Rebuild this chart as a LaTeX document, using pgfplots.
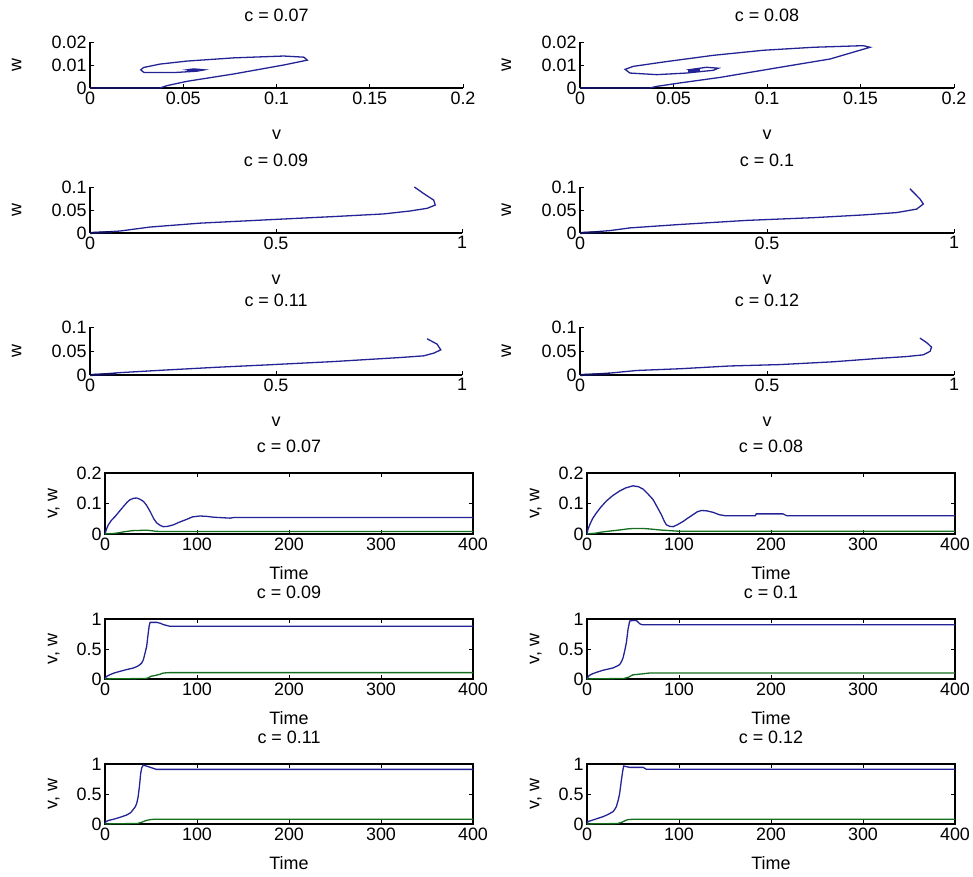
\documentclass[border=0pt]{standalone}
\usepackage{fontspec}
\setmainfont{Liberation Sans}
\usepackage{pgfplots}
\pgfplotsset{compat=1.18}
\definecolor{mblue}{RGB}{35,35,150}
\definecolor{mdark}{RGB}{15,15,90}
\definecolor{mgreen}{RGB}{20,110,30}
\pgfplotsset{
  base/.style={scale only axis, clip=false,
    scaled x ticks=false, scaled y ticks=false,
    font=\fontsize{18}{21}\selectfont,
    /pgf/number format/assume math mode=true,
    tick align=inside, major tick length=4bp,
    every tick/.style={black, line width=0.9bp},
    axis line style={black, line width=1.1bp},
    title style={at={(axis description cs:0.5,1)}, anchor=center, yshift=21bp},
    xlabel style={at={(axis description cs:0.5,0)}, anchor=center},
    ylabel style={anchor=center},
    every axis plot/.append style={line width=1.3bp, no markers},
  },
  phase/.style={base, axis x line*=bottom, axis y line*=left,
    xmin=0, ymin=0, xlabel={v}, ylabel={w},
    xlabel style={yshift=-47bp},
    ylabel style={at={(axis description cs:-0.197,0.5)}}},
  phaseA/.style={phase, xmax=0.2, ymax=0.02,
    xtick={0,0.05,0.1,0.15,0.2}, xticklabels={0,0.05,0.1,0.15,0.2},
    ytick={0,0.01,0.02}, yticklabels={0,0.01,0.02}},
  phaseB/.style={phase, xmax=1, ymax=0.1,
    xtick={0,0.5,1}, xticklabels={0,0.5,1},
    ytick={0,0.05,0.1}, yticklabels={0,0.05,0.1}},
  tser/.style={base, xmin=0, xmax=400, ymin=0,
    xtick={0,100,200,300,400}, xticklabels={0,100,200,300,400},
    xlabel={Time}, ylabel={v, w},
    xlabel style={yshift=-39bp},
    ylabel style={at={(axis description cs:-0.139,0.5)}}},
  tserA/.style={tser, ymax=0.2, ytick={0,0.1,0.2}, yticklabels={0,0.1,0.2}},
  tserB/.style={tser, ymax=1, ytick={0,0.5,1}, yticklabels={0,0.5,1}},
}
\begin{document}
\begin{tikzpicture}
\path[use as bounding box] (0,0) rectangle (973bp,877bp);

% ---------- Row 1: phase c=0.07, 0.08
\begin{axis}[phaseA, at={(90bp,789bp)}, anchor=south west, width=373bp, height=46bp, title={c = 0.07}]
\addplot[mblue] coordinates {(0,0) (0.0376,0) (0.0412,0.001) (0.052,0.0029) (0.0771,0.0061) (0.1039,0.010) (0.1165,0.0121) (0.1147,0.0134) (0.1039,0.0139) (0.0771,0.0131) (0.052,0.0117) (0.0376,0.0104) (0.0287,0.0089) (0.0272,0.0079) (0.029,0.0067) (0.0448,0.0067) (0.0573,0.0073) (0.0613,0.0079) (0.0556,0.0083) (0.052,0.0079) (0.0547,0.0076)};
\addplot[mdark, line width=2.2bp] coordinates {(0,0) (0.0376,0)};
\addplot[mblue, line width=2.5bp] coordinates {(0.052,0.0078) (0.058,0.0078)};
\end{axis}
\begin{axis}[phaseA, at={(580bp,789bp)}, anchor=south west, width=374bp, height=46bp, title={c = 0.08}]
\addplot[mblue] coordinates {(0,0) (0.0374,0) (0.041,0.0007) (0.0535,0.0022) (0.0749,0.0046) (0.107,0.009) (0.1337,0.0126) (0.1551,0.0177) (0.1515,0.0184) (0.1248,0.0177) (0.098,0.0164) (0.0713,0.0142) (0.0446,0.0113) (0.0285,0.0094) (0.0241,0.0081) (0.0267,0.0065) (0.041,0.0058) (0.057,0.0065) (0.0713,0.0077) (0.074,0.0086) (0.0677,0.009) (0.0588,0.008) (0.0624,0.0075) (0.0606,0.0077)};
\addplot[mdark, line width=2.2bp] coordinates {(0,0) (0.0374,0)};
\addplot[mblue, line width=2.5bp] coordinates {(0.058,0.0077) (0.064,0.0077)};
\end{axis}

% ---------- Row 2: phase c=0.09, 0.1
\begin{axis}[phaseB, at={(90bp,644bp)}, anchor=south west, width=372bp, height=46bp, title={c = 0.09}]
\addplot[mblue] coordinates {(0,0) (0.081,0.0043) (0.161,0.0129) (0.296,0.0214) (0.475,0.0286) (0.655,0.0357) (0.789,0.0414) (0.861,0.0479) (0.906,0.0536) (0.928,0.0607) (0.924,0.0714) (0.897,0.0857) (0.872,0.100)};
\addplot[mdark, line width=2.2bp] coordinates {(0,0) (0.06,0.002)};
\end{axis}
\begin{axis}[phaseB, at={(580bp,644bp)}, anchor=south west, width=374bp, height=46bp, title={c = 0.1}]
\addplot[mblue] coordinates {(0,0) (0.080,0.0052) (0.134,0.0111) (0.267,0.0185) (0.446,0.0274) (0.624,0.0333) (0.758,0.0393) (0.847,0.0444) (0.900,0.0519) (0.918,0.063) (0.909,0.074) (0.882,0.0963)};
\addplot[mdark, line width=2.2bp] coordinates {(0,0) (0.06,0.002)};
\end{axis}

% ---------- Row 3: phase c=0.11, 0.12
\begin{axis}[phaseB, at={(90bp,502bp)}, anchor=south west, width=372bp, height=48bp, title={c = 0.11}]
\addplot[mblue] coordinates {(0,0) (0.0807,0.0049) (0.206,0.0105) (0.341,0.0161) (0.475,0.021) (0.655,0.028) (0.834,0.0364) (0.897,0.0399) (0.924,0.0455) (0.943,0.0524) (0.933,0.0643) (0.906,0.0755)};
\addplot[mdark, line width=2.2bp] coordinates {(0,0) (0.07,0.002)};
\end{axis}
\begin{axis}[phaseB, at={(580bp,502bp)}, anchor=south west, width=374bp, height=48bp, title={c = 0.12}]
\addplot[mblue] coordinates {(0,0) (0.0847,0.0043) (0.1515,0.0094) (0.267,0.013) (0.401,0.0188) (0.535,0.0217) (0.677,0.0275) (0.802,0.0348) (0.873,0.0384) (0.918,0.042) (0.936,0.0493) (0.940,0.058) (0.927,0.0674) (0.909,0.0768)};
\addplot[mdark, line width=2.2bp] coordinates {(0,0) (0.08,0.002)};
\end{axis}

% ---------- Row 4: time c=0.07, 0.08
\begin{axis}[tserA, at={(105bp,343bp)}, anchor=south west, width=368bp, height=61bp, title={c = 0.07}]
\addplot[mblue] coordinates {(0,0) (1.5,0.015) (3.6,0.03) (7,0.045) (10.9,0.057) (15,0.072) (20,0.09) (24,0.104) (27,0.112) (31,0.117) (34.5,0.118) (38,0.114) (41.7,0.107) (45,0.095) (49,0.074) (53,0.05) (56,0.037) (60,0.028) (63.5,0.024) (68,0.025) (74.3,0.03) (81,0.039) (88.8,0.048) (95,0.056) (103,0.059) (110,0.058) (118,0.055) (136,0.052) (140,0.054) (400,0.054)};
\addplot[mgreen] coordinates {(0,0) (5,0.001) (10,0.002) (15,0.004) (20,0.007) (30,0.011) (40,0.012) (47,0.012) (50,0.011) (55,0.009) (60,0.008) (400,0.008)};
\end{axis}
\begin{axis}[tserA, at={(587bp,343bp)}, anchor=south west, width=368bp, height=61bp, title={c = 0.08}]
\addplot[mblue] coordinates {(0,0) (1,0.015) (2.9,0.03) (6,0.05) (10.2,0.069) (15,0.088) (21,0.108) (28,0.126) (35.5,0.141) (42,0.151) (50,0.158) (56,0.155) (61,0.147) (66,0.132) (71.8,0.113) (76,0.09) (80.9,0.063) (84,0.042) (86.3,0.03) (90,0.025) (93.6,0.024) (98,0.03) (104.4,0.041) (110,0.053) (115,0.063) (120,0.073) (124.4,0.077) (130,0.076) (137,0.071) (144,0.063) (150,0.06) (183,0.06) (184,0.066) (213,0.066) (217,0.06) (400,0.06)};
\addplot[mgreen] coordinates {(0,0) (10,0.003) (15,0.006) (20,0.008) (35,0.013) (45,0.017) (50,0.018) (62,0.018) (70,0.016) (80,0.013) (90,0.011) (100,0.009) (400,0.009)};
\end{axis}

% ---------- Row 5: time c=0.09, 0.1
\begin{axis}[tserB, at={(105bp,198bp)}, anchor=south west, width=368bp, height=60bp, title={c = 0.09}]
\addplot[mblue] coordinates {(0,0) (1,0.03) (2,0.045) (5.4,0.072) (10,0.1) (16.3,0.128) (23,0.155) (30.8,0.183) (35,0.21) (38,0.239) (40,0.27) (41.7,0.32) (43.5,0.43) (45.3,0.544) (47,0.767) (48,0.88) (49,0.944) (56,0.944) (60,0.93) (63.5,0.906) (70.7,0.878) (400,0.878)};
\addplot[mgreen] coordinates {(0,0) (10,0.004) (30,0.006) (44,0.008) (47,0.02) (50,0.045) (55,0.06) (60,0.08) (63.5,0.1) (70,0.106) (400,0.106)};
\end{axis}
\begin{axis}[tserB, at={(587bp,198bp)}, anchor=south west, width=368bp, height=60bp, title={c = 0.1}]
\addplot[mblue] coordinates {(0,0) (1,0.03) (2.5,0.06) (6.5,0.09) (12,0.12) (17.4,0.146) (23,0.165) (28.3,0.185) (32,0.21) (35.5,0.24) (37.5,0.29) (39.2,0.354) (41,0.47) (42.8,0.607) (44.6,0.83) (46.4,0.966) (50,0.975) (53.7,0.975) (57.3,0.92) (60,0.905) (400,0.905)};
\addplot[mgreen] coordinates {(0,0) (10,0.004) (40,0.008) (45,0.03) (50,0.07) (60,0.085) (68,0.1) (400,0.1)};
\end{axis}

% ---------- Row 6: time c=0.11, 0.12
\begin{axis}[tserB, at={(105bp,53bp)}, anchor=south west, width=368bp, height=60bp, title={c = 0.11}]
\addplot[mblue] coordinates {(0,0) (1,0.04) (4,0.06) (9,0.078) (16,0.11) (23.6,0.15) (28,0.19) (30.8,0.244) (33,0.29) (34.5,0.344) (36,0.45) (37.4,0.622) (38.8,0.844) (40,0.94) (41.7,0.983) (44,0.97) (47,0.956) (52,0.93) (56,0.91) (400,0.91)};
\addplot[mgreen] coordinates {(0,0) (10,0.004) (35,0.008) (40,0.03) (45,0.06) (50,0.075) (55,0.08) (400,0.08)};
\end{axis}
\begin{axis}[tserB, at={(587bp,53bp)}, anchor=south west, width=368bp, height=60bp, title={c = 0.12}]
\addplot[mblue] coordinates {(0,0) (1,0.04) (6.5,0.067) (12,0.095) (17.4,0.122) (23,0.16) (28.3,0.206) (30,0.24) (31.9,0.289) (34,0.4) (35.5,0.511) (37.4,0.733) (39,0.9) (39.9,0.967) (43,0.955) (46.4,0.944) (61,0.944) (64.6,0.911) (400,0.911)};
\addplot[mgreen] coordinates {(0,0) (10,0.004) (33,0.007) (38,0.03) (42,0.06) (45,0.075) (50,0.078) (400,0.078)};
\end{axis}
\end{tikzpicture}
\end{document}
